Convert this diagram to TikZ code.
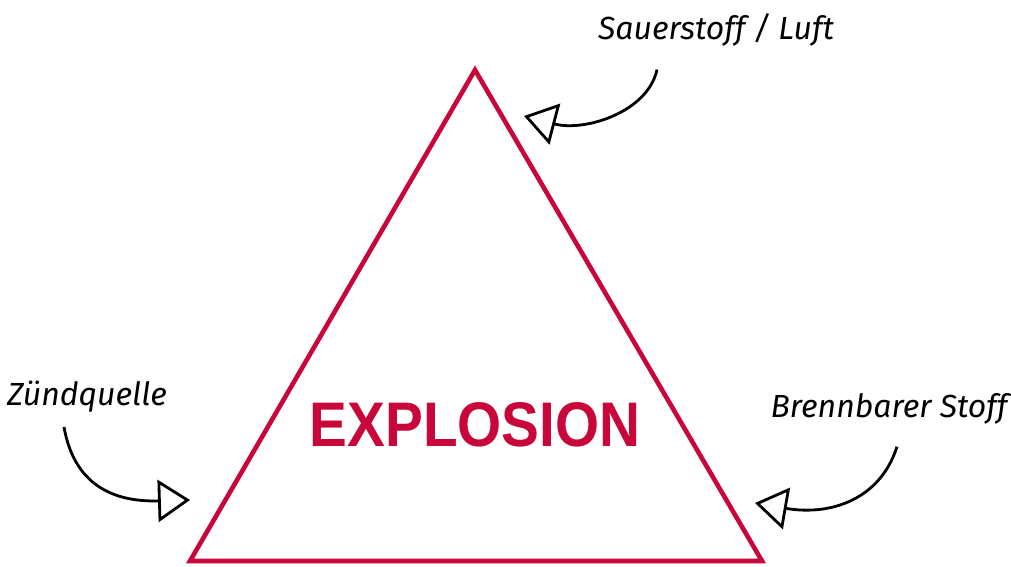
\documentclass[tikz,border=0pt]{standalone}
\usepackage{fontspec}
\usepackage{tikz}
\usetikzlibrary{arrows.meta}
\setmainfont{Liberation Sans}
\newfontfamily\handfont{Fira Sans}
\definecolor{fire}{HTML}{C8063A}

\begin{document}
\begin{tikzpicture}[x=1pt, y=-1pt,
  lab/.style={font=\handfont\itshape\fontsize{32}{34}\selectfont, inner sep=0pt},
  feed/.style={draw=black, line width=2.8pt, -{Triangle[open, length=32pt, width=42pt]}}]
  \useasboundingbox (0,0) rectangle (1011,566);
  % fire triangle
  \coordinate (top) at (475,70);
  \coordinate (bl) at (190,561);
  \coordinate (br) at (762,561);
  \draw[fire, line width=4.6pt, miter limit=10] (top) -- (br) -- (bl) -- cycle;
  \node[text=fire, font=\bfseries\fontsize{63}{63}\selectfont, xscale=0.9] (boom) at (475,425) {EXPLOSION};
  % the three ingredients
  \node[lab] (air) at (716,30) {Sauerstoff / Luft};
  \node[lab] (ign) at (87,397) {Zündquelle};
  \node[lab] (fuel) at (889,409) {Brennbarer Stoff};
  \coordinate (airtip) at (524,116);
  \coordinate (igntip) at (190,500);
  \coordinate (fueltip) at (755,503);
  \draw[feed] ([xshift=-59pt, yshift=-23pt]air.south) .. controls (648,112) and (585,132) .. (airtip);
  \draw[feed] ([xshift=-23pt, yshift=-14pt]ign.south) .. controls (75,490) and (120,502) .. (igntip);
  \draw[feed] ([xshift=8pt, yshift=-22pt]fuel.south) .. controls (880,500) and (830,516) .. (fueltip);
\end{tikzpicture}
\end{document}
